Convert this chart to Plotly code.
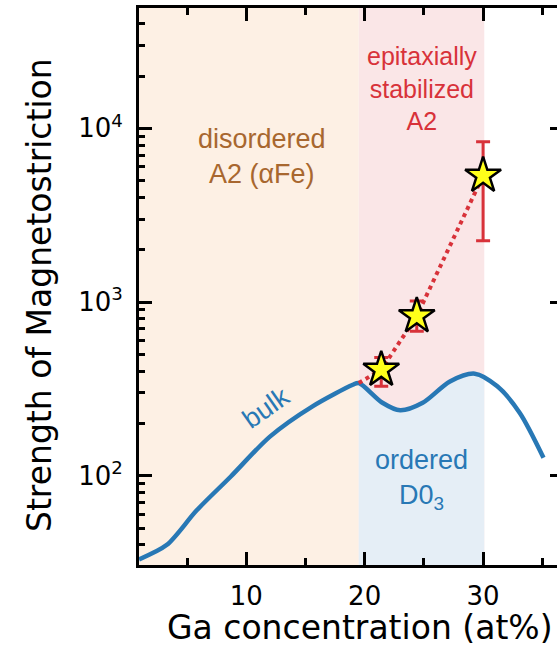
import plotly.graph_objects as go

# Bulk magnetostriction curve (Ga at%, strength)
bulk_x = [0.95, 3.3, 5.8, 8.7, 12.0, 15.6, 19.0, 19.5, 21.5, 23.0, 24.9, 27.2, 29.3, 31.2, 33.1, 35.1]
bulk_y = [33, 40, 63, 99, 168, 251, 334, 342, 263, 238, 263, 349, 387, 327, 230, 127]

# Part of the bulk curve inside the ordered D0_3 window (shaded below the curve)
d03_x = [19.5, 21.5, 23.0, 24.9, 27.2, 29.3, 30.1]
d03_y = [342, 263, 238, 263, 349, 387, 380]

# Epitaxially stabilized films
film_x = [21.4, 24.4, 30.0]
film_y = [408, 830, 5345]
film_err_plus = [71, 184, 3030]
film_err_minus = [81, 151, 3091]

# Dotted guide line
guide_x = [19.5, 21.4, 24.4, 30.0]
guide_y = [342, 408, 830, 5345]

# Phase windows
a2_range = [0.95, 19.5]
epi_range = [19.5, 30.1]

x_ticks = [10, 20, 30]
x_ticklabels = ["10", "20", "30"]
y_ticks = [100, 1000, 10000]
y_ticklabels = ["10<sup>2</sup>", "10<sup>3</sup>", "10<sup>4</sup>"]

BLUE = "#2878b5"
RED = "#d8323a"
BROWN = "#a8672f"

fig = go.Figure()

fig.add_shape(type="rect", xref="x", yref="y domain", x0=a2_range[0], x1=a2_range[1], y0=0, y1=1,
              fillcolor="#fdf0e4", line_width=0, layer="below")
fig.add_shape(type="rect", xref="x", yref="y domain", x0=epi_range[0], x1=epi_range[1], y0=0, y1=1,
              fillcolor="#fae6e7", line_width=0, layer="below")

fig.add_trace(go.Scatter(x=d03_x, y=d03_y, mode="lines", line=dict(width=0, shape="spline", smoothing=0.7),
                         fill="tozeroy", fillcolor="#e5eef6", hoverinfo="skip", showlegend=False))

fig.add_trace(go.Scatter(x=bulk_x, y=bulk_y, mode="lines",
                         line=dict(color=BLUE, width=4.5, shape="spline", smoothing=0.8),
                         showlegend=False))

fig.add_trace(go.Scatter(x=guide_x, y=guide_y, mode="lines",
                         line=dict(color=RED, width=4, dash="dot"), showlegend=False))

fig.add_trace(go.Scatter(x=film_x, y=film_y, mode="markers",
                         marker=dict(symbol="star", size=27, color="#ffff1a",
                                     line=dict(color="black", width=2.5)),
                         error_y=dict(type="data", symmetric=False, array=film_err_plus,
                                      arrayminus=film_err_minus, color=RED, thickness=3, width=7),
                         showlegend=False))

ann_font = "Liberation Sans, Arial, sans-serif"
fig.add_annotation(x=11.33, y=3.838, xref="x", yref="y", text="disordered<br>A2 (αFe)", showarrow=False,
                   font=dict(family=ann_font, size=27, color=BROWN))
fig.add_annotation(x=24.8, y=4.232, xref="x", yref="y", text="epitaxially<br>stabilized<br>A2", showarrow=False,
                   font=dict(family=ann_font, size=25, color=RED))
fig.add_annotation(x=24.8, y=1.981, xref="x", yref="y", text="ordered<br>D0<sub>3</sub>", showarrow=False,
                   font=dict(family=ann_font, size=27, color=BLUE))
fig.add_annotation(x=11.64, y=2.39, xref="x", yref="y", text="bulk", showarrow=False, textangle=-35,
                   font=dict(family=ann_font, size=27, color=BLUE))

FIG_W, PLOT_L = 563, 139
title_family = "DejaVu Sans, Verdana, sans-serif"
fig.add_annotation(x=(359.5 - PLOT_L) / (FIG_W - PLOT_L), y=-0.113, xref="paper", yref="paper",
                   text="Ga concentration (at%)",
                   showarrow=False, xanchor="center", yanchor="middle",
                   font=dict(family=title_family, size=33, color="black"))
fig.add_annotation(x=(39 - PLOT_L) / (FIG_W - PLOT_L), y=0.4847, xref="paper", yref="paper",
                   text="Strength of Magnetostriction",
                   showarrow=False, xanchor="center", yanchor="middle", textangle=-90,
                   font=dict(family=title_family, size=33, color="black"))

axis_font = dict(family=title_family, size=26, color="black")

fig.update_xaxes(range=[0.946, 0.946 + (FIG_W - PLOT_L) / 11.843], showline=True, linecolor="black",
                 linewidth=3, mirror="ticks",
                 ticks="inside", ticklen=13, tickwidth=2.5, tickcolor="black",
                 tickvals=x_ticks, ticktext=x_ticklabels, tickfont=axis_font, ticklabelstandoff=6,
                 minor=dict(ticks="inside", ticklen=7, tickwidth=2.5, tickcolor="black", dtick=5, tick0=0),
                 showgrid=False, zeroline=False, automargin=False)
fig.update_yaxes(type="log", range=[1.486, 4.693], showline=True, linecolor="black", linewidth=3, mirror="ticks",
                 ticks="inside", ticklen=13, tickwidth=2.5, tickcolor="black",
                 tickvals=y_ticks, ticktext=y_ticklabels, tickfont=axis_font, ticklabelstandoff=8,
                 minor=dict(ticks="inside", ticklen=6, tickwidth=2.5, tickcolor="black", dtick="D1"),
                 showgrid=False, zeroline=False, automargin=False)

fig.update_layout(width=FIG_W, height=646, margin=dict(l=PLOT_L, r=0, t=8, b=81),
                  plot_bgcolor="white", paper_bgcolor="white", showlegend=False)

fig.write_html("out.html", config={"displayModeBar": False},
               post_script="document.body.style.margin='0';document.body.style.overflow='hidden';")
